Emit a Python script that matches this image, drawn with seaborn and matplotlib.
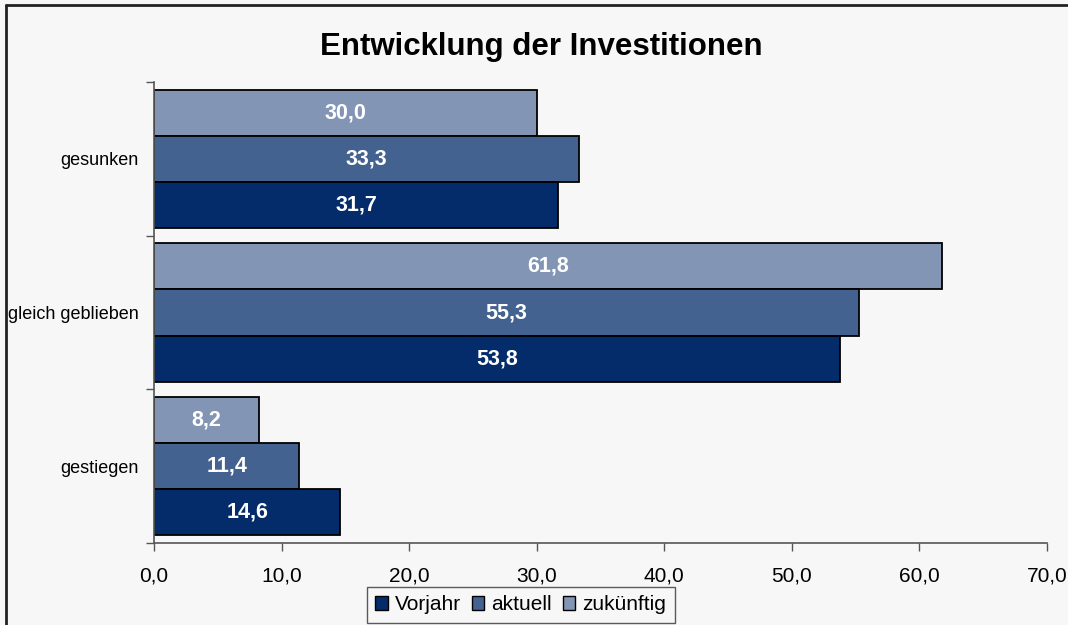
import numpy as np
import pandas as pd
import seaborn as sns
import matplotlib.pyplot as plt
from matplotlib.patches import Patch
from matplotlib.lines import Line2D

# Data
categories = ['gesunken', 'gleich geblieben', 'gestiegen']
series = ['Vorjahr', 'aktuell', 'zukünftig']
vorjahr = [31.7, 53.8, 14.6]
aktuell = [33.3, 55.3, 11.4]
zukuenftig = [30.0, 61.8, 8.2]
colors = {'Vorjahr': '#042c6b', 'aktuell': '#44628f', 'zukünftig': '#8395b5'}

df = pd.DataFrame({
    'Kategorie': categories * 3,
    'Serie': ['Vorjahr'] * 3 + ['aktuell'] * 3 + ['zukünftig'] * 3,
    'Wert': vorjahr + aktuell + zukuenftig,
})

sns.set_theme(style='white')
plt.rcParams['font.family'] = ['Liberation Sans', 'DejaVu Sans']
plt.rcParams['text.color'] = 'black'
plt.rcParams['xtick.color'] = 'black'
plt.rcParams['ytick.color'] = 'black'
bg = '#f7f7f7'

fig = plt.figure(figsize=(10.68, 6.25), dpi=100, facecolor=bg)
ax = fig.add_axes([0.1442, 0.1312, 0.8361, 0.7376], facecolor=bg)

# top of each group: zukünftig, then aktuell, then Vorjahr
hue_order = ['zukünftig', 'aktuell', 'Vorjahr']
sns.barplot(data=df, y='Kategorie', x='Wert', hue='Serie', order=categories,
            hue_order=hue_order, palette=colors, saturation=1, orient='h', width=0.9,
            edgecolor='black', linewidth=1.3, legend=False, ax=ax)

for cont in ax.containers:
    vals = cont.datavalues
    ax.bar_label(cont, labels=[f"{v:.1f}".replace('.', ',') for v in vals],
                 label_type='center', color='white', fontweight='bold',
                 fontsize=15.5)

ax.set_xlim(0, 70)
ax.set_ylim(2.5, -0.5)
ax.set_xticks(np.arange(0, 71, 10))
ax.set_xticklabels([f"{t:.1f}".replace('.', ',') for t in np.arange(0, 71, 10)],
                   fontsize=15)
ax.set_yticks(range(len(categories)))
ax.set_yticklabels(categories, fontsize=13)
ax.set_yticks([-0.5, 0.5, 1.5, 2.5], minor=True)
ax.tick_params(axis='y', which='major', length=0, pad=11)
ax.tick_params(axis='y', which='minor', length=6, width=1, color='#555555', left=True)
ax.tick_params(axis='x', length=6, width=1, color='#555555', bottom=True, pad=11)
ax.set_xlabel('')
ax.set_ylabel('')
for s in ['top', 'right']:
    ax.spines[s].set_visible(False)
for s in ['left', 'bottom']:
    ax.spines[s].set_color('#555555')
    ax.spines[s].set_linewidth(1.2)

fig.text(0.5066, 0.925, 'Entwicklung der Investitionen', ha='center', va='center',
         fontsize=22.5, fontweight='bold')

handles = [Patch(facecolor=colors[s], edgecolor='black', linewidth=1) for s in series]
leg = fig.legend(handles, series, loc='upper left', bbox_to_anchor=(367 / 1068, 1 - 587 / 625),
                 ncol=3, fontsize=15, frameon=True, fancybox=False, handlelength=0.6,
                 handleheight=0.6, handletextpad=0.35, columnspacing=0.5,
                 borderpad=0.4, borderaxespad=0)
leg.get_frame().set_edgecolor('#333333')
leg.get_frame().set_facecolor(bg)
leg.get_frame().set_linewidth(1)

# outer chart border (only top and left edges visible)
fig.add_artist(Line2D([6 / 1068, 6 / 1068], [0, 1 - 5 / 625], transform=fig.transFigure,
                      color='#222222', linewidth=2))
fig.add_artist(Line2D([6 / 1068, 1], [1 - 5 / 625, 1 - 5 / 625], transform=fig.transFigure,
                      color='#222222', linewidth=2))

fig.savefig('out.png', dpi=100, facecolor=bg)
